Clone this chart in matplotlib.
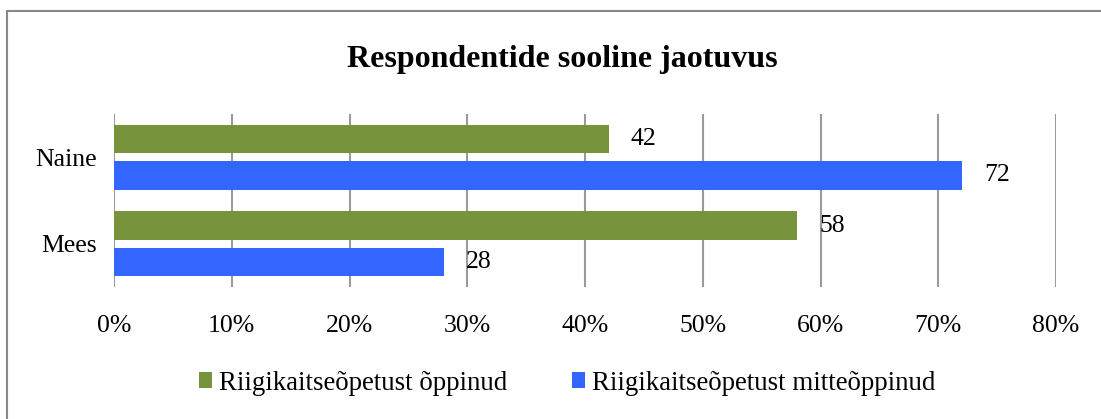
import matplotlib
matplotlib.use("Agg")
import matplotlib.pyplot as plt
import numpy as np
from matplotlib.patches import Rectangle

# data
categories = ["Naine", "Mees"]
series_names = ["Riigikaitseõpetust õppinud", "Riigikaitseõpetust mitteõppinud"]
studied = [42, 58]
not_studied = [72, 28]
xticks = [0, 10, 20, 30, 40, 50, 60, 70, 80]

green = "#77933C"
blue = "#3366FF"
grid_col = "#9a9a9a"

plt.rcParams['font.family'] = ['Liberation Serif', 'DejaVu Serif']

fig = plt.figure(figsize=(11.01, 4.19), dpi=100)
ax = fig.add_axes([114 / 1101, 1 - 287 / 419, (1056 - 114) / 1101, (287 - 114) / 419])

pos = np.arange(len(categories))
h = 0.33
off = 0.21
b1 = ax.barh(pos - off, studied, height=h, color=green, label=series_names[0])
b2 = ax.barh(pos + off, not_studied, height=h, color=blue, label=series_names[1])

for bars, vals in ((b1, studied), (b2, not_studied)):
    for bar, v in zip(bars, vals):
        ax.annotate(str(v), (bar.get_width(), bar.get_y() + bar.get_height() / 2),
                    xytext=(16, 0), textcoords="offset points",
                    va="center", ha="left", fontsize=18.5)

ax.set_xlim(0, 80)
ax.set_ylim(len(categories) - 0.5, -0.5)
ax.set_xticks(xticks)
ax.set_xticklabels([f"{t}%" for t in xticks])
ax.set_yticks(pos)
ax.set_yticklabels(categories)
ax.tick_params(axis="both", length=0, labelsize=18.5)
ax.tick_params(axis="x", pad=20)
ax.tick_params(axis="y", pad=12)

ax.xaxis.grid(True, color=grid_col, lw=1.5)
ax.set_axisbelow(True)
for s in ax.spines.values():
    s.set_visible(False)

fig.text(0.511, 1 - 60 / 419, "Respondentide sooline jaotuvus",
         ha="center", va="center", fontsize=23, fontweight="bold")

fig.legend(handles=[b1, b2], loc="center", bbox_to_anchor=(0.515, 1 - 383 / 419),
           ncol=2, frameon=False, fontsize=19.4, handlelength=0.5, handleheight=0.5,
           handletextpad=0.25, columnspacing=2.4)

# outer chart frame (left and top edges visible)
fig.add_artist(Rectangle((7 / 1101, -0.1), 1.2, 1 - 11 / 419 + 0.1,
                         transform=fig.transFigure, fill=False,
                         edgecolor="#888888", lw=1.5))

fig.savefig("out.png", dpi=100)
